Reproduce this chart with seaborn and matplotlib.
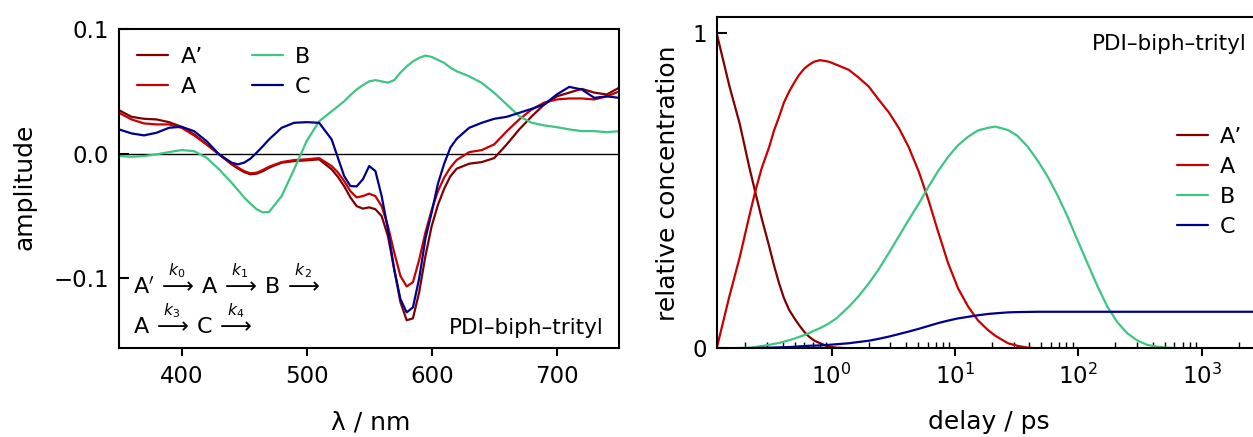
import numpy as np
import pandas as pd
import matplotlib
matplotlib.use("Agg")
import matplotlib.pyplot as plt
import matplotlib.ticker as mticker
import seaborn as sns

# ---------------- data: spectra (left panel) ----------------
wavelength = [350, 360, 370, 380, 390, 400, 410, 420, 430, 440, 445, 450, 455, 460, 465,
              470, 480, 490, 500, 510, 520, 525, 530, 535, 540, 545, 550, 555, 560, 565,
              570, 575, 580, 585, 590, 595, 600, 605, 610, 615, 620, 630, 640, 650, 660,
              670, 680, 690, 700, 710, 720, 730, 740, 750]

amp_Aprime = [0.0349, 0.0296, 0.0280, 0.0275, 0.0253, 0.0216, 0.0155, 0.0075, -0.0005, -0.0085,
              -0.0118, -0.0147, -0.0165, -0.0160, -0.0140, -0.0112, -0.0072, -0.0059, -0.0053, -0.0045,
              -0.0125, -0.0185, -0.0260, -0.0350, -0.0420, -0.0440, -0.0430, -0.0445, -0.0500, -0.0660,
              -0.0925, -0.1190, -0.1335, -0.1320, -0.1110, -0.0820, -0.0580, -0.0410, -0.0280, -0.0180,
              -0.0120, -0.0080, -0.0067, -0.0035, 0.0075, 0.0195, 0.0300, 0.0395, 0.0460, 0.0490,
              0.0520, 0.0490, 0.0475, 0.0530]

amp_A = [0.0328, 0.0275, 0.0243, 0.0235, 0.0235, 0.0208, 0.0147, 0.0075, -0.0005, -0.0077,
         -0.0110, -0.0139, -0.0157, -0.0152, -0.0130, -0.0104, -0.0067, -0.0051, -0.0045, -0.0035,
         -0.0099, -0.0150, -0.0219, -0.0300, -0.0350, -0.0340, -0.0320, -0.0340, -0.0420, -0.0580,
         -0.0790, -0.0980, -0.1064, -0.1030, -0.0850, -0.0630, -0.0450, -0.0300, -0.0190, -0.0110,
         -0.0050, 0.0013, 0.0029, 0.0075, 0.0180, 0.0275, 0.0355, 0.0410, 0.0435, 0.0443,
         0.0443, 0.0435, 0.0460, 0.0500]

amp_B = [-0.0019, -0.0024, -0.0019, -0.0005, 0.0013, 0.0029, 0.0021, -0.0032, -0.0125, -0.0232,
         -0.0290, -0.0350, -0.0400, -0.0445, -0.0470, -0.0467, -0.0340, -0.0125, 0.0101, 0.0260,
         0.0340, 0.0380, 0.0420, 0.0470, 0.0515, 0.0550, 0.0580, 0.0590, 0.0580, 0.0570,
         0.0590, 0.0650, 0.0700, 0.0740, 0.0768, 0.0787, 0.0776, 0.0752, 0.0728, 0.0690,
         0.0661, 0.0621, 0.0568, 0.0488, 0.0395, 0.0301, 0.0248, 0.0227, 0.0213, 0.0195,
         0.0181, 0.0181, 0.0173, 0.0181]

amp_C = [0.0195, 0.0163, 0.0147, 0.0168, 0.0208, 0.0216, 0.0181, 0.0101, -0.0005, -0.0072,
         -0.0085, -0.0072, -0.0040, 0.0008, 0.0060, 0.0115, 0.0208, 0.0248, 0.0253, 0.0248,
         0.0115, -0.0032, -0.0179, -0.0259, -0.0262, -0.0205, -0.0099, -0.0139, -0.0340, -0.0605,
         -0.0925, -0.1165, -0.1272, -0.1232, -0.1000, -0.0680, -0.0470, -0.0240, -0.0080, 0.0050,
         0.0120, 0.0208, 0.0248, 0.0280, 0.0296, 0.0328, 0.0360, 0.0395, 0.0475, 0.0536,
         0.0515, 0.0448, 0.0460, 0.0448]

# ---------------- data: concentrations (right panel) ----------------
delay = [0.117, 0.148, 0.18, 0.215, 0.24, 0.27, 0.312, 0.34, 0.375, 0.41,
         0.452, 0.5, 0.544, 0.6, 0.655, 0.72, 0.806, 0.95, 1.1, 1.38,
         1.65, 2.0, 2.4, 2.9, 3.5, 4.2, 5.1, 6.1, 7.3, 8.8,
         10.6, 12.8, 15.4, 18.5, 21.2, 26.9, 32, 38.9, 47, 56.4,
         68, 81.8, 98, 118.6, 143, 172, 207, 249, 300, 361,
         435, 524, 630, 760, 1600, 2700]

conc_Aprime = [1.0, 0.834, 0.712, 0.575, 0.497, 0.415, 0.323, 0.265, 0.206, 0.16,
               0.122, 0.095, 0.074, 0.052, 0.037, 0.025, 0.016, 0.005, 0.002, 0.0,
               0.0, 0.0, 0.0, 0.0, 0.0, 0.0, 0.0, 0.0, 0.0, 0.0,
               0.0, 0.0, 0.0, 0.0, 0.0, 0.0, 0.0, 0.0, 0.0, 0.0,
               0.0, 0.0, 0.0, 0.0, 0.0, 0.0, 0.0, 0.0, 0.0, 0.0,
               0.0, 0.0, 0.0, 0.0, 0.0, 0.0]
conc_A = [0.0, 0.164, 0.29, 0.42, 0.497, 0.57, 0.64, 0.69, 0.735, 0.78,
          0.815, 0.845, 0.868, 0.888, 0.90, 0.91, 0.915, 0.91, 0.90, 0.884,
          0.86, 0.831, 0.79, 0.75, 0.70, 0.64, 0.56, 0.47, 0.37, 0.27,
          0.19, 0.132, 0.088, 0.058, 0.04, 0.016, 0.008, 0.002, 0.0, 0.0,
          0.0, 0.0, 0.0, 0.0, 0.0, 0.0, 0.0, 0.0, 0.0, 0.0,
          0.0, 0.0, 0.0, 0.0, 0.0, 0.0]
conc_B = [0.0, 0.0005, 0.001, 0.002, 0.004, 0.007, 0.011, 0.014, 0.017, 0.021,
          0.026, 0.031, 0.036, 0.042, 0.048, 0.056, 0.064, 0.079, 0.096, 0.132,
          0.165, 0.206, 0.25, 0.302, 0.355, 0.407, 0.46, 0.513, 0.563, 0.608,
          0.645, 0.672, 0.692, 0.70, 0.704, 0.693, 0.675, 0.64, 0.595, 0.545,
          0.485, 0.418, 0.345, 0.27, 0.197, 0.132, 0.083, 0.048, 0.025, 0.011,
          0.005, 0.002, 0.0005, 0.0, 0.0, 0.0]
conc_C = [0.0, 0.0, 0.0003, 0.0005, 0.001, 0.0015, 0.002, 0.0025, 0.003, 0.0035,
          0.004, 0.005, 0.006, 0.007, 0.008, 0.0085, 0.009, 0.011, 0.013, 0.016,
          0.02, 0.024, 0.03, 0.037, 0.045, 0.053, 0.062, 0.071, 0.08, 0.088,
          0.095, 0.100, 0.105, 0.109, 0.111, 0.114, 0.115, 0.1155, 0.116, 0.116,
          0.116, 0.116, 0.116, 0.116, 0.116, 0.116, 0.116, 0.116, 0.116, 0.116,
          0.116, 0.116, 0.116, 0.116, 0.116, 0.116]

species = ["A\u2019", "A", "B", "C"]
colors = ["#800000", "#C80000", "#3DC581", "#00008C"]

left_xticks = [400, 500, 600, 700]
left_yticks = [-0.1, 0.0, 0.1]
left_yticklabels = ["\u22120.1", "0.0", "0.1"]
right_xticks = [1, 10, 100, 1000]
right_yticks = [0, 1]
right_yticklabels = ["0", "1"]

sample_name = "PDI\u2013biph\u2013trityl"
scheme_1 = (r"A$'\,\overset{k_0}{\longrightarrow}\,$A$\,\overset{k_1}{\longrightarrow}\,$"
            r"B$\,\overset{k_2}{\longrightarrow}$")
scheme_2 = r"A$\,\overset{k_3}{\longrightarrow}\,$C$\,\overset{k_4}{\longrightarrow}$"

# ---------------- style ----------------
sns.set_style("ticks")
plt.rcParams["font.family"] = ["DejaVu Sans"]
plt.rcParams["mathtext.fontset"] = "dejavusans"
for key in ["text.color", "axes.labelcolor", "xtick.color", "ytick.color", "axes.edgecolor"]:
    plt.rcParams[key] = "black"
plt.rcParams["axes.linewidth"] = 1.5

LW = 1.6
W, H = 1253, 437
fig = plt.figure(figsize=(W / 100, H / 100), dpi=100)
ax1 = fig.add_axes([119 / W, (H - 348.3) / H, (619.3 - 119) / W, (348.3 - 29) / H])
ax2 = fig.add_axes([716.7 / W, (H - 348.3) / H, (W - 716.7) / W, (348.3 - 17.3) / H])

# ---------------- left panel ----------------
ax1.axhline(0, color="black", lw=1.0, zorder=1)
for name, vals, col in zip(species, [amp_Aprime, amp_A, amp_B, amp_C], colors):
    sns.lineplot(x=wavelength, y=vals, ax=ax1, color=col, lw=LW, label=name, zorder=2)

ax1.set_xlim(350, 750)
ax1.set_ylim(-0.156, 0.1)
ax1.set_xticks(left_xticks)
ax1.set_yticks(left_yticks, labels=left_yticklabels)
ax1.tick_params(axis="x", direction="out", length=5.8, width=1.5, pad=6, labelsize=16.5)
ax1.tick_params(axis="y", direction="in", length=7.2, width=1.5, pad=7, labelsize=16.5)
for s in ax1.spines.values():
    s.set_linewidth(1.5)

ax1.legend(ncol=2, loc="upper left", bbox_to_anchor=(0.0366, 0.943), frameon=False,
           borderpad=0, borderaxespad=0, handlelength=1.4, handletextpad=0.55,
           columnspacing=2.2, labelspacing=0.45, fontsize=16)

ax1.text(0.028, 0.170, scheme_1, transform=ax1.transAxes, fontsize=16, va="baseline", ha="left")
ax1.text(0.028, 0.045, scheme_2, transform=ax1.transAxes, fontsize=16, va="baseline", ha="left")
ax1.text(0.969, 0.045, sample_name, transform=ax1.transAxes, fontsize=15.5, va="baseline", ha="right")

ax1.set_xlabel("\u03bb / nm", fontsize=18)
ax1.set_ylabel("amplitude", fontsize=18)
ax1.xaxis.set_label_coords(371 / W, (H - 422) / H, transform=fig.transFigure)
ax1.xaxis.label.set_va("center")
ax1.yaxis.set_label_coords(25 / W, (H - 187) / H, transform=fig.transFigure)
ax1.yaxis.label.set_va("center")

# ---------------- right panel ----------------
for name, vals, col in zip(species, [conc_Aprime, conc_A, conc_B, conc_C], colors):
    sns.lineplot(x=delay, y=vals, ax=ax2, color=col, lw=LW, label=name)

ax2.set_xscale("log")
ax2.set_xlim(0.117, 2606)
ax2.set_ylim(0, 1.051)
ax2.xaxis.set_major_locator(mticker.FixedLocator(right_xticks))
ax2.xaxis.set_major_formatter(mticker.LogFormatterSciNotation())
ax2.xaxis.set_minor_locator(mticker.LogLocator(base=10, subs=np.arange(2, 10), numticks=30))
ax2.xaxis.set_minor_formatter(mticker.NullFormatter())
ax2.set_yticks(right_yticks, labels=right_yticklabels)
ax2.tick_params(axis="x", which="major", direction="out", length=5.8, width=1.5, pad=5, labelsize=16.5)
ax2.tick_params(axis="x", which="minor", direction="in", length=4, width=1.0)
ax2.tick_params(axis="y", which="both", direction="in", length=7.2, width=1.5, pad=7, labelsize=16.5)
ax2.spines["right"].set_visible(False)
for s in ax2.spines.values():
    s.set_linewidth(1.5)

ax2.legend(loc="upper left", bbox_to_anchor=(0.858, 0.669), frameon=False,
           borderpad=0, borderaxespad=0, handlelength=1.4, handletextpad=0.55,
           labelspacing=0.45, fontsize=16)

ax2.text(0.989, 0.901, sample_name, transform=ax2.transAxes, fontsize=15.5, va="baseline", ha="right")

ax2.set_xlabel("delay / ps", fontsize=18)
ax2.set_ylabel("relative concentration", fontsize=18)
ax2.xaxis.set_label_coords(988.8 / W, (H - 422) / H, transform=fig.transFigure)
ax2.xaxis.label.set_va("center")
ax2.yaxis.set_label_coords(668 / W, (H - 183) / H, transform=fig.transFigure)
ax2.yaxis.label.set_va("center")

fig.savefig("out.png", dpi=100)
